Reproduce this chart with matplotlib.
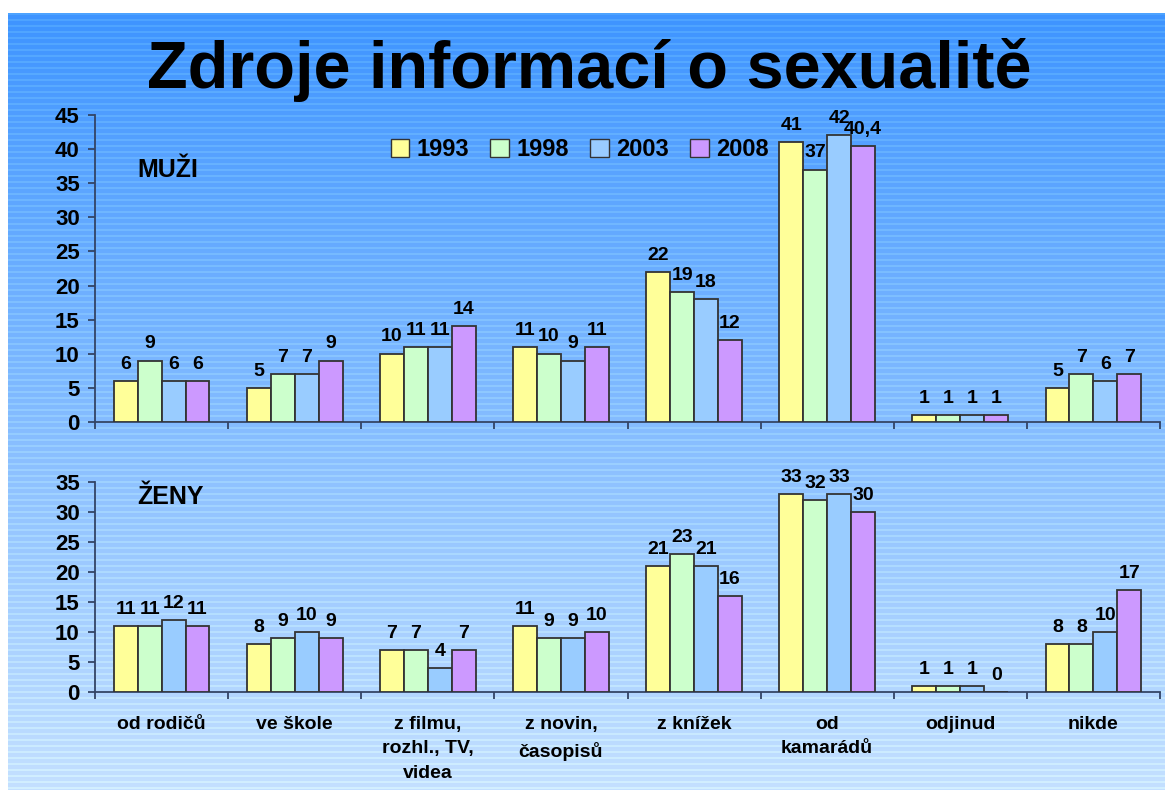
import numpy as np
import matplotlib.pyplot as plt
from matplotlib.patches import Patch

plt.rcParams['font.family'] = ['Liberation Sans', 'DejaVu Sans']
plt.rcParams['font.weight'] = 'bold'

categories = ['od rodičů', 've škole', 'z filmu,\nrozhl., TV,\nvidea', 'z novin,\nčasopisů',
              'z knížek', 'od\nkamarádů', 'odjinud', 'nikde']
years = ['1993', '1998', '2003', '2008']
colors = ['#ffff99', '#ccffcc', '#99ccff', '#cc99ff']

muzi_1993 = [6, 5, 10, 11, 22, 41, 1, 5]
muzi_1998 = [9, 7, 11, 10, 19, 37, 1, 7]
muzi_2003 = [6, 7, 11, 9, 18, 42, 1, 6]
muzi_2008 = [6, 9, 14, 11, 12, 40.4, 1, 7]

zeny_1993 = [11, 8, 7, 11, 21, 33, 1, 8]
zeny_1998 = [11, 9, 7, 9, 23, 32, 1, 8]
zeny_2003 = [12, 10, 4, 9, 21, 33, 1, 10]
zeny_2008 = [11, 9, 7, 10, 16, 30, 0, 17]

fig = plt.figure(figsize=(11.71, 7.95), dpi=100)

# background: blue gradient with faint horizontal stripes
bg = fig.add_axes([8 / 1171, 5 / 795, 1157 / 1171, 777 / 795])
bg.set_axis_off()
n = 777
t = np.linspace(0, 1, n)[:, None]
top = np.array([62, 148, 255]) / 255
bot = np.array([196, 224, 255]) / 255
img = top + (bot - top) * t
stripe = (np.arange(n) % 6 < 2)[:, None] * 0.06
img = np.clip(img + stripe, 0, 1)
bg.imshow(img[:, None, :].repeat(2, axis=1), aspect='auto', extent=[0, 1, 0, 1])
bg.set_xlim(0, 1)
bg.set_ylim(0, 1)

fig.text(0.503, 0.912, 'Zdroje informací o sexualitě', ha='center', va='center',
         fontsize=48, fontweight='bold')

x = np.arange(len(categories))
w = 0.18
offs = np.array([-1.5, -0.5, 0.5, 1.5]) * w


def draw(ax, series, ymax, step):
    for i, vals in enumerate(series):
        bars = ax.bar(x + offs[i], vals, w, color=colors[i], edgecolor='#333333',
                      linewidth=1.3, label=years[i], zorder=3)
        for b, v in zip(bars, vals):
            lab = str(v).replace('.', ',')
            ax.annotate(lab, (b.get_x() + b.get_width() / 2, b.get_height()),
                        xytext=(0, 6), textcoords='offset points', ha='center',
                        va='bottom', fontsize=14, fontweight='bold')
    ax.set_xlim(-0.5, len(categories) - 0.5)
    ax.set_ylim(0, ymax)
    ax.set_yticks(np.arange(0, ymax + 1, step))
    ax.set_facecolor('none')
    for s in ['top', 'right']:
        ax.spines[s].set_visible(False)
    for s in ['left', 'bottom']:
        ax.spines[s].set_color('#334466')
        ax.spines[s].set_linewidth(1.3)
    ax.set_xticks(np.arange(-0.5, len(categories)), minor=True)
    ax.tick_params(axis='x', which='minor', length=5, color='#334466', width=1.3)
    ax.tick_params(axis='x', which='major', length=0)
    ax.tick_params(axis='y', length=5, color='#334466', width=1.3, labelsize=16, pad=6)
    for lab in ax.get_yticklabels():
        lab.set_fontweight('bold')


ax1 = fig.add_axes([95 / 1171, 1 - 422 / 795, 1065 / 1171, 307 / 795])
draw(ax1, [muzi_1993, muzi_1998, muzi_2003, muzi_2008], 45, 5)
ax1.set_xticks(x)
ax1.set_xticklabels([])
ax1.text(0.04, 0.82, 'MUŽI', transform=ax1.transAxes, fontsize=18, fontweight='bold',
         ha='left', va='center')
handles = [Patch(facecolor=c, edgecolor='#333333', label=y) for c, y in zip(colors, years)]
ax1.legend(handles=handles, loc='center', bbox_to_anchor=(0.455, 0.888), ncol=4,
           frameon=False, handlelength=0.8, handleheight=0.8,
           handletextpad=0.3, columnspacing=0.9, prop={'weight': 'bold', 'size': 17})

ax2 = fig.add_axes([95 / 1171, 1 - 692 / 795, 1065 / 1171, 210 / 795])
draw(ax2, [zeny_1993, zeny_1998, zeny_2003, zeny_2008], 35, 5)
ax2.set_xticks(x)
ax2.set_xticklabels(categories, fontsize=14, fontweight='bold', va='top', linespacing=1.6)
ax2.tick_params(axis='x', which='major', pad=17)
ax2.text(0.04, 0.93, 'ŽENY', transform=ax2.transAxes, fontsize=18, fontweight='bold',
         ha='left', va='center')

fig.savefig('out.png', dpi=100)
